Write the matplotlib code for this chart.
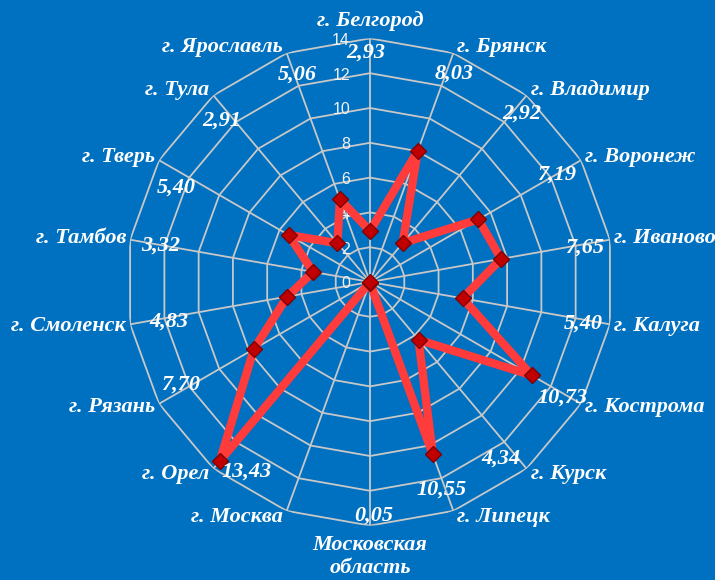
import numpy as np
import matplotlib
matplotlib.use('Agg')
import matplotlib.pyplot as plt

# data: cities clockwise from the top
cities = ['г. Белгород', 'г. Брянск', 'г. Владимир', 'г. Воронеж', 'г. Иваново',
          'г. Калуга', 'г. Кострома', 'г. Курск', 'г. Липецк', 'Московская\nобласть',
          'г. Москва', 'г. Орел', 'г. Рязань', 'г. Смоленск', 'г. Тамбов',
          'г. Тверь', 'г. Тула', 'г. Ярославль']
values = [2.93, 8.03, 2.92, 7.19, 7.65, 5.40, 10.73, 4.34, 10.55, 0.05,
          None, 13.43, 7.70, 4.83, 3.32, 5.40, 2.91, 5.06]
r_ticks = [0, 2, 4, 6, 8, 10, 12, 14]

# where the value labels sit (radius, angle shift in degrees)
label_r = [13.2, 12.9, 13.0, 12.4, 12.5, 12.5, 12.9, 12.6, 12.6, 13.4,
           0, 13.0, 12.4, 11.8, 12.2, 12.4, 12.6, 12.6]
label_shift = [-1, 2, 2, 0, 1, 1, 1, 3.5, 1, -1, 0, -7, 1.5, -1, 0, -4, -2.4, 0.7]

BG = '#0070C0'
GRID = '#C8C8C8'

n = len(cities)
angles = np.arange(n) * 2 * np.pi / n
vals = np.array([0 if v is None else v for v in values])

fig = plt.figure(figsize=(7.15, 5.8), dpi=100, facecolor=BG)
ax = fig.add_axes([0.1768, 0.0938, 0.6814, 0.84], projection='polar')
ax.set_facecolor('none')
ax.set_theta_zero_location('N')
ax.set_theta_direction(-1)
ax.set_ylim(0, 14)
ax.grid(False)
ax.spines['polar'].set_visible(False)
ax.set_xticks([])
ax.set_yticks([])

# polygon grid
closed = np.append(angles, angles[0])
for lv in r_ticks[1:]:
    ax.plot(closed, [lv] * (n + 1), color=GRID, lw=1.3, zorder=1)
for a in angles:
    ax.plot([a, a], [0, 14], color=GRID, lw=1.3, zorder=1)

for lv in r_ticks:
    ax.annotate(str(lv), xy=(0, lv), xytext=(-20, -2), textcoords='offset pixels',
                ha='right', va='center', color='#F2F2F2', fontsize=11.5,
                family='Liberation Sans', zorder=2)

# series
ax.plot(closed, np.append(vals, vals[0]), color='#FF3B3B',
        lw=6, solid_joinstyle='round', zorder=3)
ax.plot(angles, vals, 'D', ms=8, mfc='#C00000', mec='#800000', mew=1, zorder=4)

font = dict(family='Liberation Serif', weight='bold', style='italic',
            color='white', fontsize=16)

# value labels
for i, v in enumerate(values):
    if v is None:
        continue
    txt = ('%.2f' % v).replace('.', ',')
    th = angles[i] + np.deg2rad(label_shift[i])
    ax.text(th, label_r[i], txt, ha='center', va='center', zorder=5, **font)

# category labels
for i, name in enumerate(cities):
    a = angles[i]
    deg = np.rad2deg(a)
    if deg == 0:
        ha, va, dx, dy = 'center', 'bottom', 0, 7
    elif deg == 180:
        ha, va, dx, dy = 'center', 'top', 0, -9
    elif deg < 180:
        ha, va, dx, dy = 'left', 'center', 4, 7 * np.cos(a)
    else:
        ha, va, dx, dy = 'right', 'center', -4, 7 * np.cos(a)
    ax.annotate(name, xy=(a, 14), xytext=(dx, dy), textcoords='offset pixels',
                ha=ha, va=va, linespacing=1.2, annotation_clip=False, **font)

plt.savefig('out.png', dpi=100, facecolor=BG)
